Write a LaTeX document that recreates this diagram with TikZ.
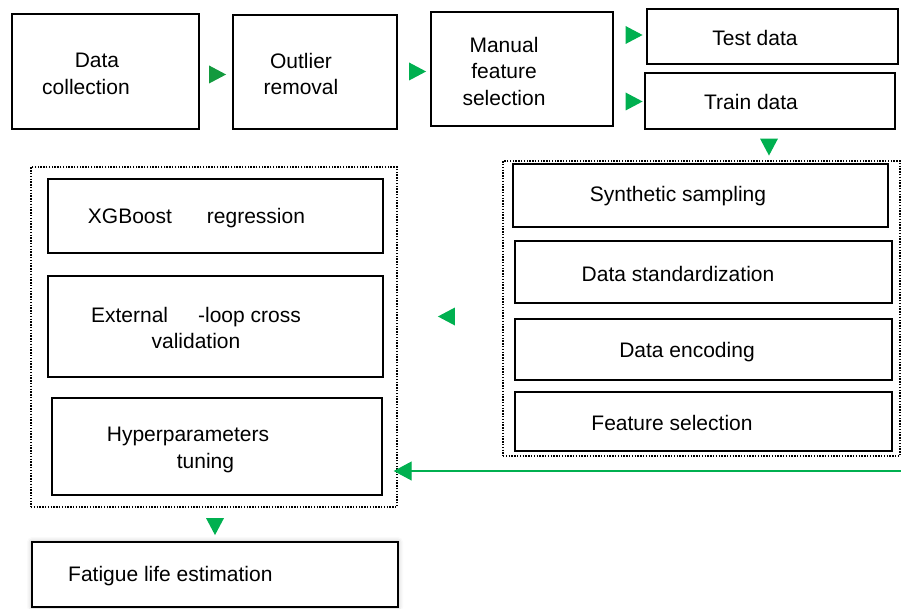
\documentclass[tikz,border=0pt]{standalone}
\usepackage{fontspec}
\setmainfont{Liberation Sans}
\usetikzlibrary{shapes.geometric,arrows.meta,shadows.blur}
\definecolor{grn}{HTML}{00B050}
\definecolor{dgrn}{HTML}{139A3E}
\begin{document}
\begin{tikzpicture}[x=1pt,y=-1pt,
  box/.style={draw=black, line width=1.4pt, inner sep=0pt},
  cont/.style={draw=black, line width=1.7pt, dash pattern=on 1.4pt off 1.4pt, inner sep=0pt},
  txt/.style={font=\fontsize{21}{26.5}\selectfont, align=center, inner sep=0pt},
  tri/.style={isosceles triangle, isosceles triangle stretches, fill=grn, draw=none, inner sep=0pt, minimum width=18pt, minimum height=17pt},
  fb/.style={draw=grn, line width=1.2pt, -{Triangle[length=18pt,width=19pt]}}
]
\useasboundingbox (0,0) rectangle (901,609);

% top row
\node[box, minimum width=187pt, minimum height=115pt] (dc) at (105.5,71.5) {};
\node[txt] (dct) at (86,74) {\hspace*{22pt}Data\\collection};
\node[tri, fill=dgrn] (t1) at (214.5,74.5) {};

\node[box, minimum width=164pt, minimum height=114pt] (orm) at (315,72) {};
\node[txt] (ormt) at (301,74) {Outlier\\removal};
\node[tri] (t2) at (414.5,71.5) {};

\node[box, minimum width=182pt, minimum height=114pt] (mfs) at (522,69) {};
\node[txt] (mfst) at (504,71) {Manual\\feature\\selection};
\node[tri] (t3) at (631,35) {};
\node[tri] (t4) at (631,101.5) {};

\node[box, minimum width=251pt, minimum height=55pt] (test) at (772.5,36.5) {};
\node[txt] (testt) at (755,38) {Test data};
\node[box, minimum width=250pt, minimum height=56pt] (train) at (770,101) {};
\node[txt] (traint) at (751,102) {Train data};
\node[tri, shape border rotate=270] (t5) at (769,144) {};

% right container
\node[cont, minimum width=397pt, minimum height=295pt] (rc) at (701.5,308.5) {};
\node[box, minimum width=375pt, minimum height=63pt] (syn) at (700.5,195.5) {};
\node[txt] (synt) at (678,196.5) {Synthetic sampling};
\node[box, minimum width=377pt, minimum height=62pt] (std) at (703.5,272) {};
\node[txt] (stdt) at (678,274) {Data standardization};
\node[box, minimum width=377pt, minimum height=61pt] (enc) at (703.5,349.5) {};
\node[txt] (enct) at (687,352) {Data encoding};
\node[box, minimum width=377pt, minimum height=59pt] (fsel) at (703.5,421.5) {};
\node[txt] (fselt) at (672,423) {Feature selection};

\node[tri, shape border rotate=180] (t6) at (449.5,316.5) {};

% left container
\node[cont, minimum width=366pt, minimum height=340pt] (lc) at (214,337) {};
\node[box, minimum width=335pt, minimum height=74pt] (xgb) at (215.5,216) {};
\node[txt] (xgbt) at (196.5,218) {XGBoost\hspace{35pt}regression};
\node[box, minimum width=335pt, minimum height=101pt] (ext) at (215.5,326.5) {};
\node[txt] (extt) at (196,328) {External\hspace{30pt}-loop cross\\validation};
\node[box, minimum width=330pt, minimum height=97pt] (hyp) at (217,446.5) {};
\node[txt, align=left] (hypt) at (188,450) {Hyperparameters\\\hspace*{70pt}tuning};

% feedback line
\coordinate (fbs) at (901,471);
\draw[fb, shorten >=11pt] (fbs) -- (hyp.east |- fbs);

\node[tri, shape border rotate=270] (t7) at (215,523.5) {};

% final
\node[box, fill=white, minimum width=366pt, minimum height=65pt,
  blur shadow={shadow xshift=0pt, shadow yshift=0pt, shadow blur radius=5pt, shadow opacity=30}] (fat) at (215,574.5) {};
\node[txt, anchor=west] (fatt) at (68,576) {Fatigue life estimation};
\end{tikzpicture}
\end{document}
